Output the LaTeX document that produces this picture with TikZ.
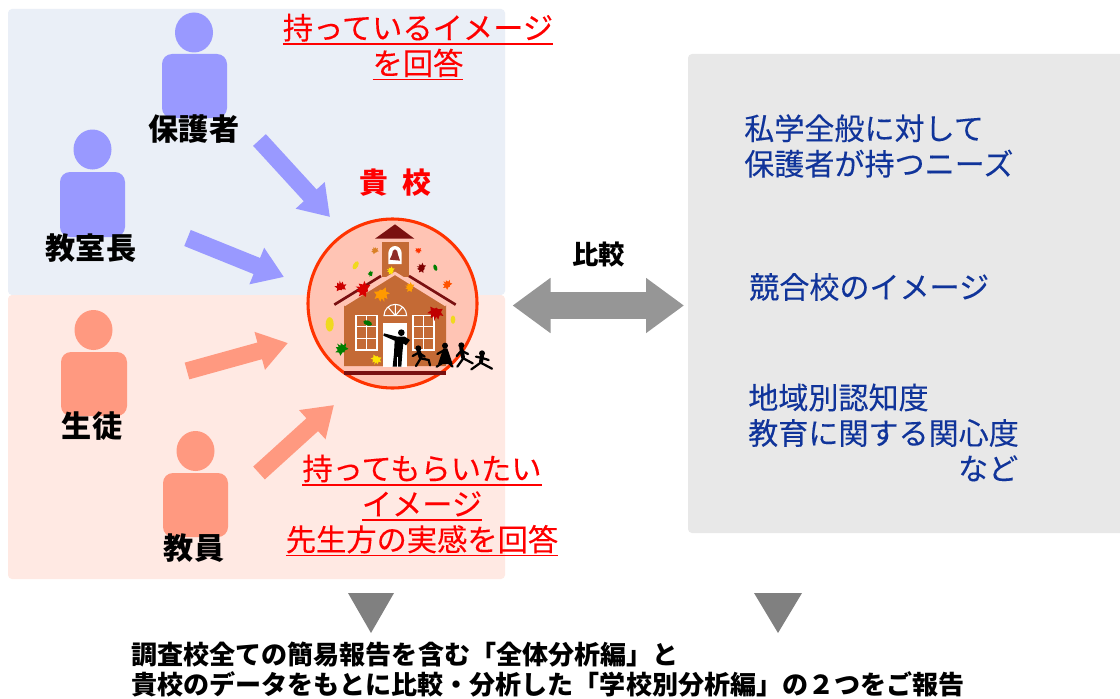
\documentclass[tikz,border=0pt]{standalone}
\usepackage{fontspec}
\setmainfont{Noto Sans CJK JP}
\newfontfamily\heavyish[FakeBold=0.15]{Noto Sans CJK JP}
\usetikzlibrary{arrows.meta}
\definecolor{panelblue}{HTML}{EAEFF7}
\definecolor{panelred}{HTML}{FFE9E3}
\definecolor{panelgrey}{HTML}{E8E8E8}
\definecolor{pblue}{HTML}{9999FF}
\definecolor{pred}{HTML}{FF9980}
\definecolor{txtblue}{HTML}{10349A}
\definecolor{brick}{HTML}{C46A35}
\definecolor{roofd}{HTML}{7A1010}
\definecolor{pale}{HTML}{FFC4B4}
\newsavebox{\ulbox}
\newcommand{\ulred}[1]{\sbox{\ulbox}{#1}\mbox{\usebox{\ulbox}\hspace{-\wd\ulbox}\rule[-4.2pt]{\wd\ulbox}{1.2pt}}}
\tikzset{
  panel/.style={fill=#1,draw=none,rounded corners=3pt},
  headshape/.style={fill=#1,draw=none},
  bodyshape/.style={fill=#1,draw=none,rounded corners=7.5pt},
  who/.style={font=\fontsize{22.6}{27}\selectfont\bfseries,text=black,inner sep=0pt},
  redtxt/.style={font=\fontsize{22.7}{26.6}\selectfont\heavyish,text=red,inner sep=0pt,align=center},
  bluetxt/.style={font=\fontsize{22.55}{26.6}\selectfont\heavyish,text=txtblue,inner sep=0pt,align=left,anchor=west},
  bigarrow/.style={line width=13pt,draw=#1,-{Triangle[length=22pt,width=28pt]}},
  silh/.style={fill=black,draw=none},
  limb/.style={draw=black,line width=1.7pt,line cap=round,line join=round},
}
\newcommand{\leafshape}[5]{% x y colour rot size
  \fill[#3,shift={(#1,#2)},rotate=#4,scale=#5]
   (0,8) -- (-3,6) -- (-10,8) -- (-8,2) -- (-13,-3) -- (-7,-3) -- (-6,-10) -- (-2,-6) -- (0,-13)
   -- (2,-6) -- (6,-10) -- (7,-3) -- (13,-3) -- (8,2) -- (10,8) -- (3,6) -- cycle;}
\newcommand{\ovalleaf}[5]{%
  \fill[#3,rotate around={#4:(#1,#2)}] (#1,#2) ellipse ({#5*5} and {#5*9});}
\begin{document}
\begin{tikzpicture}[x=0.75pt,y=-0.75pt]
\useasboundingbox (0,0) rectangle (1120,699);
\fill[white] (0,0) rectangle (1120,699);
% panels
\fill[panel=panelblue] (8,9) rectangle (505,295);
\fill[panel=panelred] (8,295) rectangle (505,579);
\fill[panel=panelgrey] (688,54) rectangle (1130,533);
% people
\fill[headshape=pblue] (194,32.5) ellipse (19 and 20);
\fill[bodyshape=pblue] (162,54) rectangle (227,118);
\fill[headshape=pblue] (92.5,149.5) ellipse (19 and 20);
\fill[bodyshape=pblue] (60,172) rectangle (125,237);
\fill[headshape=pred] (93.5,330) ellipse (19 and 20);
\fill[bodyshape=pred] (61,352) rectangle (127,416);
\fill[headshape=pred] (195.5,451) ellipse (19 and 20);
\fill[bodyshape=pred] (163,473) rectangle (228,537);
\node[who] (parent) at (194,129) {保護者};
\node[who] (head) at (91,248) {教室長};
\node[who] (student) at (92,426) {生徒};
\node[who] (staff) at (194,548) {教員};
% arrows
\coordinate (a1s) at (259.5,140); \coordinate (a1e) at (330,217);
\coordinate (a2s) at (187.5,238); \coordinate (a2e) at (284,277);
\coordinate (a3s) at (187,371); \coordinate (a3e) at (288,343);
\coordinate (a4s) at (259,473); \coordinate (a4e) at (334,405);
\draw[bigarrow=pblue] (a1s) -- (a1e);
\draw[bigarrow=pblue] (a2s) -- (a2e);
\draw[bigarrow=pred] (a3s) -- (a3e);
\draw[bigarrow=pred] (a4s) -- (a4e);
% school
\node[font=\fontsize{21.6}{25}\selectfont\bfseries,text=red,inner sep=0pt] (kiko) at (395,183) {貴\hspace{0.5em}校};
\fill[pale,draw=none] (392.5,303.5) circle (85);
\draw[draw={rgb,255:red,255;green,51;blue,0},line width=2.3pt] (392.5,303.5) circle (84.5);
\begin{scope}[shift={(300,160)},x=0.25pt,y=-0.25pt]
  \fill[roofd] (225,236) -- (285,193) -- (343,236) -- cycle;
  \fill[brick] (245,245) rectangle (327,350);
  \fill[white] (265,312) -- (265,280) arc[start angle=180,end angle=360,x radius=20,y radius=22] -- (305,312) -- cycle;
  \fill[roofd!85!pale] (269,299) -- (276,284) arc[start angle=180,end angle=360,x radius=9,y radius=16] -- (300,302) -- cycle;
  \fill[brick] (132,618) -- (132,435) -- (285,340) -- (438,435) -- (438,618) -- cycle;
  \draw[pale,line width=2.2pt] (132,435) -- (285,340) -- (438,435);
  \draw[roofd,line width=2pt] (103,434) -- (243,348);
  \draw[roofd,line width=2pt] (327,348) -- (467,434);
  \fill[roofd] (132,632) rectangle (438,645);
  % windows
  \foreach \wx in {168,339}{
    \draw[white,line width=.8pt,fill=brick] (\wx,466) rectangle ++(63,104);
    \draw[white,line width=.8pt] (\wx+31.5,466) -- ++(0,104) (\wx,500) -- ++(63,0) (\wx,536) -- ++(63,0);
  }
  \draw[white,line width=.8pt] (252,467) arc[start angle=180,end angle=360,x radius=34,y radius=34] -- cycle;
  \draw[white,line width=.8pt] (286,467) -- (286,433) (286,467) -- (264,441) (286,467) -- (308,441);
  \fill[white] (249,490) rectangle (321,620);
  % teacher
  \fill[silh] (304,518) circle (10);
  \fill[silh] (292,530) -- (314,530) -- (330,540) -- (318,556) -- (310,550) -- (307,580) -- (304,620) -- (278,620) -- (282,580) -- (284,542) -- (250,527) -- (252,520) -- cycle;
  \draw[white,line width=.5pt] (293,590) -- (293,620);
  % children
  \foreach \cx/\cy in {355/565,435/557,484/556,546/580}{\fill[silh] (\cx,\cy) circle (9);}
  \draw[limb,line width=3pt] (356,574) -- (362,592);
  \draw[limb] (362,595) -- (348,618);
  \draw[limb] (362,595) -- (386,600) -- (390,616);
  \draw[limb] (356,578) -- (338,588);
  \draw[limb] (356,578) -- (374,590);
  \fill[silh] (430,565) -- (442,565) -- (458,612) -- (414,612) -- cycle;
  \draw[limb] (428,608) -- (410,620);
  \draw[limb] (446,608) -- (458,620);
  \draw[limb] (430,572) -- (412,582);
  \draw[limb,line width=3pt] (484,565) -- (489,592);
  \draw[limb] (490,595) -- (472,620);
  \draw[limb] (490,595) -- (518,610);
  \draw[limb] (484,572) -- (470,588);
  \draw[limb] (484,572) -- (504,582);
  \draw[limb,line width=3pt] (546,588) -- (543,606);
  \draw[limb] (542,608) -- (514,628);
  \draw[limb] (542,608) -- (576,626);
  \draw[limb] (546,594) -- (528,590);
  \draw[limb] (546,594) -- (566,600);
  % leaves
  \leafshape{122}{380}{red!80!black}{10}{1.4}
  \leafshape{190}{388}{red!85!black}{70}{1.9}
  \leafshape{245}{403}{orange!80!yellow}{200}{1.9}
  \leafshape{330}{382}{orange!75!yellow}{70}{1.2}
  \leafshape{225}{272}{brown!60!orange}{30}{.9}
  \leafshape{355}{271}{red!60!orange}{180}{.8}
  \leafshape{365}{324}{red!50!black}{70}{1.2}
  \leafshape{442}{374}{red!35!orange}{50}{1.2}
  \leafshape{407}{458}{red!75!black}{170}{1.9}
  \leafshape{125}{567}{green!50!black}{40}{1.6}
  \leafshape{229}{598}{yellow!85!orange}{160}{1.3}
  \leafshape{273}{332}{yellow!85!orange}{70}{1}
  \leafshape{212}{341}{green!50!black}{80}{.7}
  \ovalleaf{167}{316}{yellow!75!brown}{-30}{1.5}
  \ovalleaf{89}{493}{yellow!75!brown}{0}{2.4}
  \ovalleaf{459}{479}{yellow!75!brown}{0}{1.4}
  \ovalleaf{406}{323}{green!50!black}{20}{1.1}
  \ovalleaf{203}{489}{green!45!black}{70}{1.5}
\end{scope}
% compare arrow
\coordinate (cmpl) at (512.5,305.5); \coordinate (cmpr) at (684,305.5);
\draw[line width=20pt,draw={rgb,255:red,150;green,150;blue,150},{Triangle[length=28.5pt,width=39.5pt]}-{Triangle[length=28.5pt,width=39.5pt]}] (cmpl) -- (cmpr);
\node[font=\fontsize{19.8}{23}\selectfont\bfseries,inner sep=0pt] (hikaku) at (598.5,255) {比較};
% red text
\node[redtxt] (t1) at (418,47) {\ulred{持っているイメージ}\\\ulred{を回答}};
\node[redtxt] (t2) at (422,505.5) {\ulred{持ってもらいたい}\\\ulred{イメージ}\\\ulred{先生方の実感を回答}};
% blue text
\node[bluetxt] (b1) at (744,146) {私学全般に対して\\保護者が持つニーズ};
\node[bluetxt] (b2) at (749,287) {競合校のイメージ};
\node[bluetxt] (b3) at (748,432.5) {地域別認知度\\教育に関する関心度\\\makebox[202.5pt][r]{など}};
% down triangles
\fill[gray] (348,593) -- (394,593) -- (371,633) -- cycle;
\fill[gray] (754,593) -- (802,593) -- (778,633) -- cycle;
% bottom
\node[font=\fontsize{19.55}{22.5}\selectfont\bfseries,inner sep=0pt,align=left,anchor=west] (bottom) at (131,670) {調査校全ての簡易報告を含む「全体分析編」と\\貴校のデータをもとに比較・分析した「学校別分析編」の２つをご報告};
\end{tikzpicture}
\end{document}
